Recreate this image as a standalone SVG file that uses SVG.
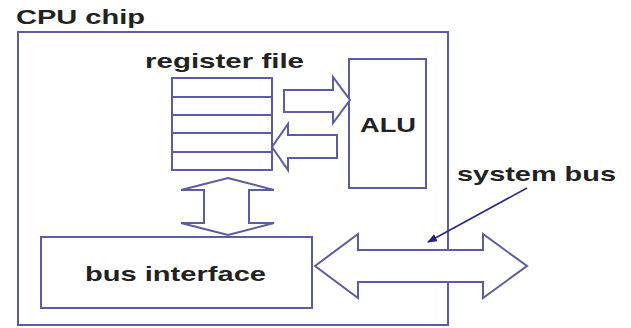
<svg xmlns="http://www.w3.org/2000/svg" width="631" height="328" viewBox="0 0 631 328">
<defs>
<style>
.ln{fill:#fff;stroke:#5a5ca4;stroke-width:2;stroke-linejoin:miter}
.t{font-family:"Liberation Sans",Arial,sans-serif;font-weight:bold;font-size:21px;fill:#222}
</style>
<marker id="ah" markerWidth="10" markerHeight="8" refX="9" refY="4" orient="auto" markerUnits="userSpaceOnUse">
<path d="M0,0 L10,4 L0,8 z" fill="#22227a"/>
</marker>
</defs>
<rect width="631" height="328" fill="#fff"/>
<g id="cpu">
<rect class="ln" x="18" y="32" width="430" height="293"/>
<text class="t" x="16" y="24" textLength="129" lengthAdjust="spacingAndGlyphs">CPU chip</text>
</g>
<g id="register-file">
<text class="t" x="145" y="68" textLength="159" lengthAdjust="spacingAndGlyphs">register file</text>
<rect class="ln" x="172" y="78" width="100" height="92"/>
<path class="ln" d="M172,97 H272 M172,115 H272 M172,133 H272 M172,152 H272" fill="none"/>
</g>
<g id="alu">
<rect class="ln" x="349" y="59" width="77" height="129"/>
<text class="t" x="360" y="132" textLength="56" lengthAdjust="spacingAndGlyphs">ALU</text>
</g>
<g id="bus-interface">
<rect class="ln" x="41" y="237" width="271" height="71"/>
<text class="t" x="85" y="281" textLength="181" lengthAdjust="spacingAndGlyphs">bus interface</text>
</g>
<g id="connectors">
<path class="ln" d="M284,90 H333 V77 L350,100 L333,123 V112 H284 Z"/>
<path class="ln" d="M337,135 H288 V124 L272,147 L288,170 V158 H337 Z"/>
<path class="ln" d="M228,178 L274,190 H249 V223 H274 L228,235 L181,223 H204 V190 H181 Z"/>
<path class="ln" d="M315,266 L358,234 V250 H483 V234 L527,266 L483,298 V282 H358 V298 Z"/>
<line x1="527" y1="188" x2="428" y2="242" stroke="#2a2a88" stroke-width="1.6" marker-end="url(#ah)"/>
</g>
<g id="system-bus">
<text class="t" x="457" y="181" textLength="159" lengthAdjust="spacingAndGlyphs">system bus</text>
</g>
</svg>
